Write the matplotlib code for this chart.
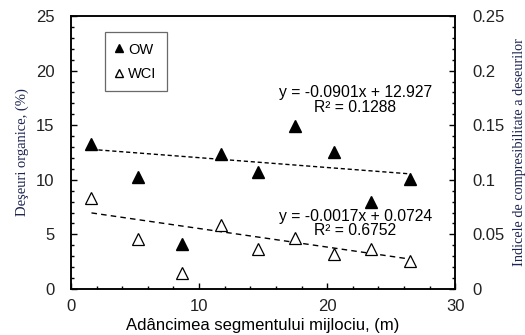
import numpy as np
import matplotlib
matplotlib.use('Agg')
import matplotlib.pyplot as plt
from matplotlib.lines import Line2D
from matplotlib.ticker import MultipleLocator

# depth of middle segment (m)
depth = [1.6, 5.2, 8.7, 11.7, 14.6, 17.5, 20.5, 23.4, 26.5]
# organic waste (%)
ow = [13.3, 10.3, 4.1, 12.4, 10.7, 14.9, 12.5, 8.0, 10.1]
# waste compressibility index
wci = [0.083, 0.046, 0.015, 0.059, 0.037, 0.047, 0.032, 0.037, 0.026]

# trendline coefficients as printed on the chart
ow_fit = (-0.0901, 12.927)
wci_fit = (-0.0017, 0.0724)
ow_eq = 'y = -0.0901x + 12.927\nR\u00b2 = 0.1288'
wci_eq = 'y = -0.0017x + 0.0724\nR\u00b2 = 0.6752'

sans = 'Liberation Sans'
serif = 'Liberation Serif'
navy = '#1c2450'

fig = plt.figure(figsize=(5.25, 3.35), dpi=100)
ax = fig.add_axes([0.1352, 0.1373, 0.732, 0.815])
ax2 = ax.twinx()

xs = np.array([depth[0], depth[-1]])
ax.plot(xs, ow_fit[0]*xs + ow_fit[1], '--', color='black', lw=1.0, dashes=(3, 2))
ax2.plot(xs, wci_fit[0]*xs + wci_fit[1], '--', color='black', lw=1.0, dashes=(4, 3))

ax.plot(depth, ow, '^', color='black', ms=8, zorder=3)
ax2.plot(depth, wci, '^', mfc='white', mec='black', mew=0.9, ms=9, zorder=3)

ax.set_xlim(0, 30)
ax.set_ylim(0, 25)
ax2.set_ylim(0, 0.25)
ax.xaxis.set_major_locator(MultipleLocator(10))
ax.xaxis.set_minor_locator(MultipleLocator(2))
ax.yaxis.set_major_locator(MultipleLocator(5))
ax.yaxis.set_minor_locator(MultipleLocator(1))
ax2.yaxis.set_minor_locator(MultipleLocator(0.01))
ax2.set_yticks([0, 0.05, 0.1, 0.15, 0.2, 0.25])
ax2.set_yticklabels(['0', '0.05', '0.1', '0.15', '0.2', '0.25'])

for a in (ax, ax2):
    a.tick_params(which='both', direction='in', top=False, labelsize=12)
    a.tick_params(which='major', length=4, width=1)
    a.tick_params(which='minor', length=2.5, width=1)
    for lab in a.get_xticklabels() + a.get_yticklabels():
        lab.set_fontfamily(sans)
        lab.set_color('#222222')
    for s in a.spines.values():
        s.set_linewidth(1.1)
ax.tick_params(axis='y', pad=12)
ax2.tick_params(axis='y', pad=12)
ax.tick_params(axis='x', pad=7)

ax.set_xlabel('Ad\u00e2ncimea segmentului mijlociu, (m)', fontfamily=sans,
              fontsize=12, labelpad=3)
ax.set_ylabel('De\u015feuri organice, (%)', fontfamily=serif, fontsize=10.5,
              color=navy, labelpad=5)
ax2.set_ylabel('Indicele de compresibilitate a deseurilor', fontfamily=serif,
               fontsize=10.3, color=navy, labelpad=6)

ax.text(22.2, 17.3, ow_eq, ha='center', va='center', fontfamily=sans,
        fontsize=11.3, linespacing=0.95)
ax.text(22.2, 6.0, wci_eq, ha='center', va='center', fontfamily=sans,
        fontsize=11.3, linespacing=0.95)

handles = [Line2D([], [], ls='', marker='^', color='black', ms=6),
           Line2D([], [], ls='', marker='^', mfc='white', mec='black', ms=6)]
leg = ax.legend(handles, ['OW', 'WCI'], loc='upper left',
                bbox_to_anchor=(0.088, 0.94), borderaxespad=0,
                frameon=True, fancybox=False,
                edgecolor='#444444', handlelength=0.6, handletextpad=0.3,
                labelspacing=0.7, borderpad=0.7,
                prop={'family': sans, 'size': 10.5})
leg.get_frame().set_linewidth(0.9)

fig.savefig('out.png', dpi=100)
